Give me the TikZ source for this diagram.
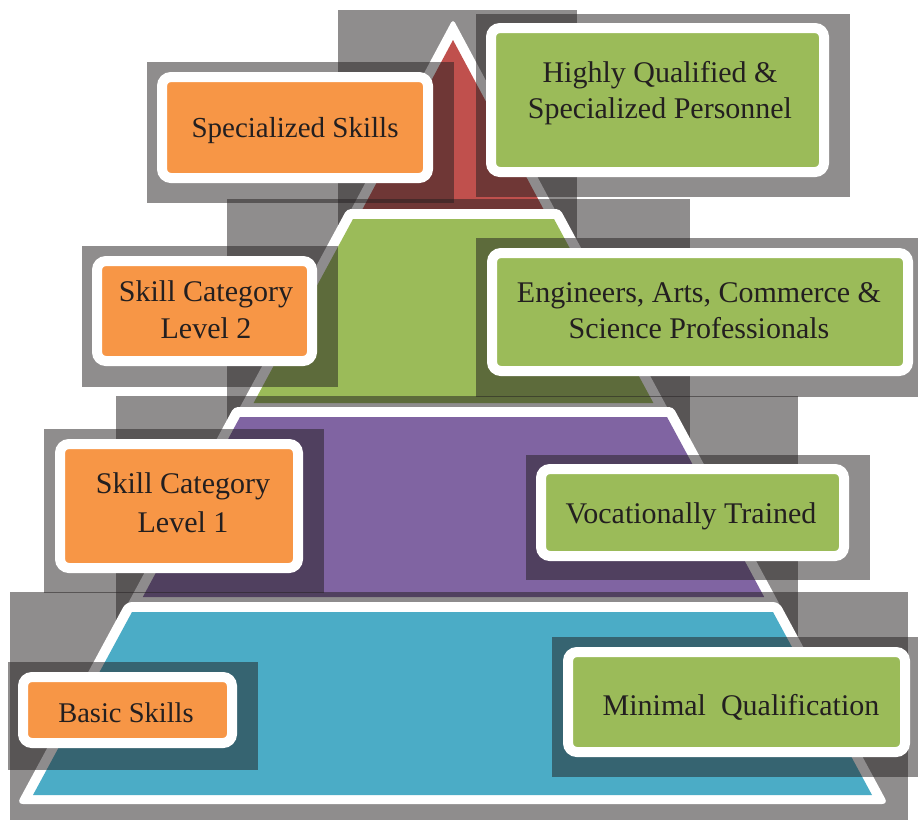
\documentclass[tikz,border=0pt]{standalone}
\usepackage{fontspec}
\setmainfont{Liberation Serif}

\definecolor{lblorange}{HTML}{F79646}
\definecolor{lblgreen}{HTML}{9BBB59}
\definecolor{tierred}{HTML}{C0504D}
\definecolor{tiergreen}{HTML}{9BBB59}
\definecolor{tierpurple}{HTML}{8064A2}
\definecolor{tiercyan}{HTML}{4BACC6}
\definecolor{ink}{HTML}{231F20}
\definecolor{shade}{HTML}{231F20}

\tikzset{
  shadowbox/.style={fill=shade, fill opacity=0.51},
  rim/.style={fill=white, rounded corners=4pt},
  labelbox/.style={draw=white, line width=10pt, rounded corners=9pt},
  lbl/.style={text=ink, inner sep=0pt, anchor=base, font=\fontsize{30}{36}\selectfont},
}

\begin{document}
\begin{tikzpicture}[x=1pt, y=-1pt]
\useasboundingbox (0,0) rectangle (918,820);

% ---- pyramid, drawn from the apex down; each tier sits on its own shadow block
% apex
\fill[shadowbox] (338,10) rectangle (577,238);
\fill[rim] (453,19) -- (560.5,220) -- (345.5,220) -- cycle;
\fill[tierred] (453,40) -- (549.3,220) -- (356.7,220) -- cycle;

% second tier
\fill[shadowbox] (227,199) rectangle (690,440);
\fill[rim] (347,209) -- (560,209) -- (670.2,413) -- (236.8,413) -- cycle;
\fill[tiergreen] (353,219) -- (554,219) -- (653.4,403) -- (253.6,403) -- cycle;

% third tier
\fill[shadowbox] (116,396) rectangle (798,640);
\fill[rim] (234,407) -- (673,407) -- (781,607) -- (126,607) -- cycle;
\fill[tierpurple] (240,417) -- (667,417) -- (764.2,597) -- (142.8,597) -- cycle;

% base tier
\fill[shadowbox] (10,592) rectangle (908,820);
\fill[rim, rounded corners=6pt] (126,602) -- (779,602) -- (888,804) -- (17,804) -- cycle;
\fill[tiercyan] (132,612) -- (773,612) -- (872,795) -- (33,795) -- cycle;

% ---- shadow blocks behind the labels
\fill[shadowbox] (147,62) rectangle (454,203);   % specialized skills
\fill[shadowbox] (476,14) rectangle (850,197);   % highly qualified
\fill[shadowbox] (82,246) rectangle (338,387);   % skill category 2
\fill[shadowbox] (476,238) rectangle (918,397);  % engineers
\fill[shadowbox] (44,429) rectangle (324,593);   % skill category 1
\fill[shadowbox] (526,455) rectangle (870,580);  % vocationally trained
\fill[shadowbox] (8,662) rectangle (258,770);    % basic skills
\fill[shadowbox] (552,637) rectangle (918,777);  % minimal qualification

% ---- label boxes
\draw[labelbox, fill=lblorange] (162,77) rectangle (428,178);
\draw[labelbox, fill=lblgreen]  (491,28) rectangle (824,172);
\draw[labelbox, fill=lblorange] (97,261) rectangle (312,361);
\draw[labelbox, fill=lblgreen]  (492,253) rectangle (908,371);
\draw[labelbox, fill=lblorange] (60,444) rectangle (298,568);
\draw[labelbox, fill=lblgreen]  (541,469) rectangle (844,556);
\draw[labelbox, fill=lblorange] (23,677) rectangle (232,743);
\draw[labelbox, fill=lblgreen]  (568,652) rectangle (905,752);

% ---- label texts
\node[lbl, font=\fontsize{29}{36}\selectfont] (spec) at (295,137) {Specialized Skills};
\node[lbl] (hqa) at (660,82) {Highly Qualified \&};
\node[lbl] (hqb) at (660,118) {Specialized Personnel};
\node[lbl] (sctwoa) at (206,301) {Skill Category};
\node[lbl] (sctwob) at (206,338) {Level 2};
\node[lbl] (enga) at (699,302) {Engineers, Arts, Commerce \&};
\node[lbl] (engb) at (699,338) {Science Professionals};
\node[lbl] (sconea) at (183,493) {Skill Category};
\node[lbl] (sconeb) at (183,532) {Level 1};
\node[lbl] (voc) at (691,523) {Vocationally Trained};
\node[lbl, font=\fontsize{28.5}{36}\selectfont] (basic) at (126,722) {Basic Skills};
\node[lbl] (minq) at (741,715) {Minimal\ \ Qualification};
\end{tikzpicture}
\end{document}
